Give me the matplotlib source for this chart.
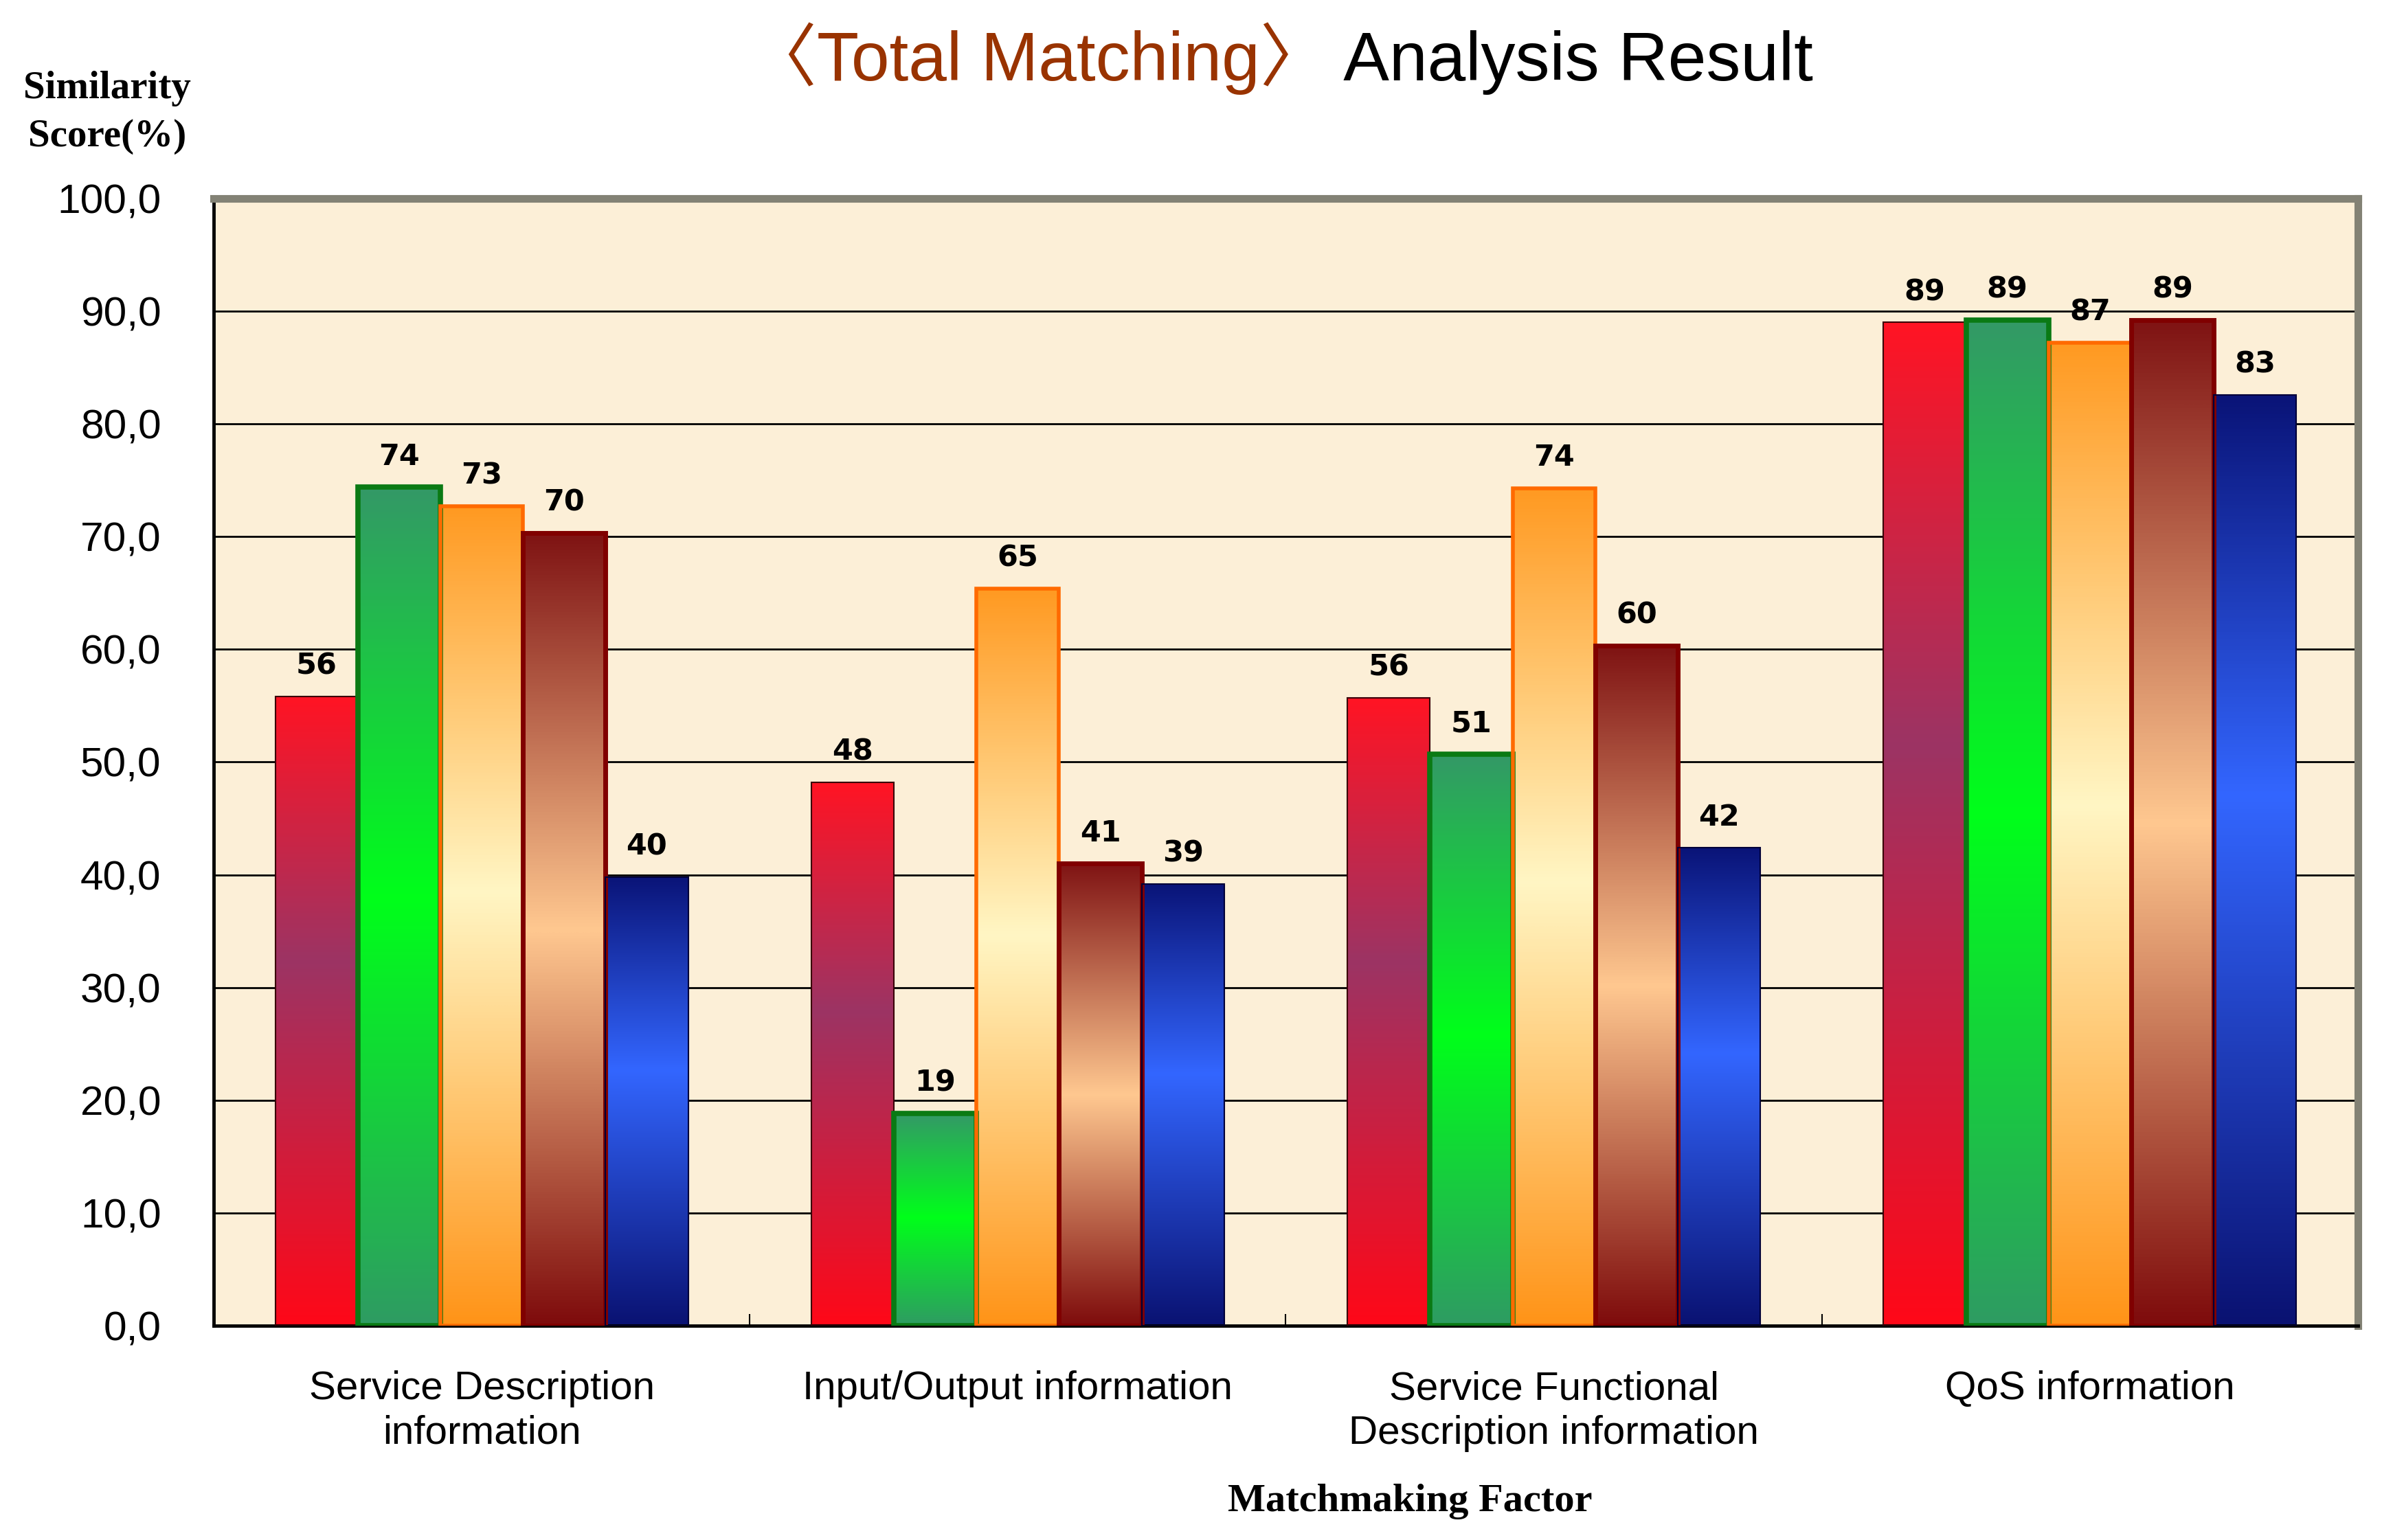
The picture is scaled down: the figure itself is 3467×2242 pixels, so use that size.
import numpy as np
import matplotlib
matplotlib.use("Agg")
import matplotlib.pyplot as plt
from matplotlib.colors import LinearSegmentedColormap

# data
categories = ["Service Description\ninformation", "Input/Output information",
              "Service Functional\nDescription information", "QoS information"]
series_1 = [55.8, 48.2, 55.7, 89.0]
series_2 = [74.4, 18.8, 50.7, 89.2]
series_3 = [72.7, 65.4, 74.3, 87.2]
series_4 = [70.3, 41.0, 60.3, 89.2]
series_5 = [39.8, 39.2, 42.4, 82.6]
yticks = [0, 10, 20, 30, 40, 50, 60, 70, 80, 90, 100]

all_series = [series_1, series_2, series_3, series_4, series_5]

# gradient (bottom -> top) and edge colour for each series
grads = [
    [(0.0, "#ff0818"), (0.58, "#9c3464"), (1.0, "#ff1424")],
    [(0.0, "#2e9c62"), (0.51, "#00ff1a"), (1.0, "#339966")],
    [(0.0, "#ff9418"), (0.53, "#fff6c4"), (1.0, "#ff9a22")],
    [(0.0, "#7e0c0c"), (0.5, "#ffc890"), (1.0, "#801414")],
    [(0.0, "#0a1272"), (0.57, "#3366ff"), (1.0, "#0a1478")],
]
edges = ["#3a0008", "#0a7a14", "#ff6a00", "#800000", "#000038"]
edge_w = [1.5, 5.5, 4, 5, 1.5]

fig = plt.figure(figsize=(34.67, 22.42), dpi=100)
ax = fig.add_axes([0.0897, 0.1392, 0.9002, 0.7319])
ax.set_facecolor("#fcefd7")

x = np.arange(len(categories)) + 0.5
bw = 0.154
ramp = np.linspace(0, 1, 256).reshape(-1, 1)

for i, vals in enumerate(all_series):
    cmap = LinearSegmentedColormap.from_list("g%d" % i, grads[i])
    bars = ax.bar(x + (i - 2) * bw, vals, bw, facecolor="none",
                  edgecolor=edges[i], linewidth=edge_w[i], zorder=3)
    for rect, v in zip(bars, vals):
        x0 = rect.get_x()
        ax.imshow(ramp, cmap=cmap, origin="lower", aspect="auto",
                  extent=[x0, x0 + rect.get_width(), 0, rect.get_height()],
                  zorder=2, interpolation="bicubic")
        ax.annotate("%.0f" % v, (x0 + rect.get_width() / 2, v),
                    xytext=(0, 32), textcoords="offset points",
                    ha="center", va="center", fontsize=31,
                    fontweight="bold", family="DejaVu Sans", zorder=4)

ax.set_xlim(0, 4)
ax.set_ylim(0, 100)
ax.set_axisbelow(True)
ax.yaxis.grid(True, color="black", linewidth=2)

ax.set_yticks(yticks)
ax.set_yticklabels([("%.1f" % t).replace(".", ",") for t in yticks],
                   family="Liberation Sans", fontsize=43.5)
ax.tick_params(axis="y", length=0, pad=55)

ax.set_xticks(x)
ax.set_xticklabels(categories, family="Liberation Sans", fontsize=42,
                   linespacing=1.25)
ax.set_xticks([1, 2, 3], minor=True)
ax.tick_params(axis="x", which="major", length=0, pad=47)
ax.tick_params(axis="x", which="minor", direction="in", length=12,
               width=1.5, color="black")

for side in ["left", "bottom"]:
    ax.spines[side].set_color("black")
    ax.spines[side].set_linewidth(3.5)
for side in ["top", "right"]:
    ax.spines[side].set_color("#838275")
    ax.spines[side].set_linewidth(8)

# axis titles
fig.text(0.045, 0.927, "Similarity\nScore(%)", ha="center", va="center",
         family="Liberation Serif", fontweight="bold", fontsize=41,
         linespacing=1.45)
fig.text(0.592, 0.025, "Matchmaking Factor", ha="center", va="center",
         family="Liberation Serif", fontweight="bold", fontsize=42)

# two-coloured title
t1 = fig.text(0.314, 0.948, "\u3008Total Matching\u3009",
              family=["Liberation Sans", "Noto Sans CJK KR"],
              fontsize=72, color="#993300", ha="left", va="baseline")
ax.annotate(" Analysis Result", xy=(1, 0.948),
            xycoords=(t1, "figure fraction"),
            family="Liberation Sans", fontsize=72, color="black",
            ha="left", va="baseline", annotation_clip=False)

fig.savefig("out.png", dpi=100, facecolor="white")
